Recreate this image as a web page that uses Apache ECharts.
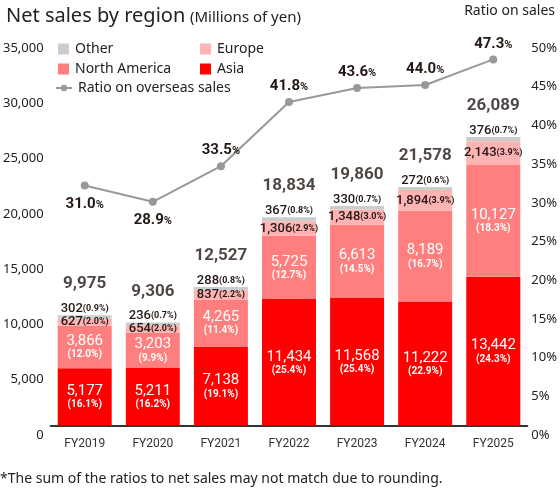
<!DOCTYPE html>
<html>
<head>
<meta charset="utf-8">
<script src="https://cdn.jsdelivr.net/npm/echarts@6/dist/echarts.min.js"></script>
<style>
html,body{margin:0;padding:0;background:#fff;}
#chart{width:560px;height:489px;}
</style>
</head>
<body>
<div id="chart"></div>
<script>
const categories = ['FY2019','FY2020','FY2021','FY2022','FY2023','FY2024','FY2025'];
const asia = [5177, 5211, 7138, 11434, 11568, 11222, 13442];
const asiaPct = ['16.1','16.2','19.1','25.4','25.4','22.9','24.3'];
const northAmerica = [3866, 3203, 4265, 5725, 6613, 8189, 10127];
const northAmericaPct = ['12.0','9.9','11.4','12.7','14.5','16.7','18.3'];
const europe = [627, 654, 837, 1306, 1348, 1894, 2143];
const europePct = ['2.0','2.0','2.2','2.9','3.0','3.9','3.9'];
const other = [302, 236, 288, 367, 330, 272, 376];
const otherPct = ['0.9','0.7','0.8','0.8','0.7','0.6','0.7'];
const totals = [9975, 9306, 12527, 18834, 19860, 21578, 26089];
const ratio = [31.0, 28.9, 33.5, 41.8, 43.6, 44.0, 47.3];
const leftTicks = {min: 0, max: 35000, interval: 5000};
const rightTicks = {min: 0, max: 50, interval: 5};

// label placement for ratio labels (style only)
const ratioLabelPos = ['bottom','bottom','top','top','top','top','top'];

const fmt = v => v.toLocaleString('en-US');
const dark = '#231815';
const numFont = 'Roboto, "Liberation Sans", sans-serif';
const txtFont = '"Noto Sans", "Open Sans", sans-serif';

const chart = echarts.init(document.getElementById('chart'), null, {renderer: 'canvas'});

const option = {
  animation: false,
  backgroundColor: '#fff',
  textStyle: {fontFamily: txtFont},
  title: {
    left: 1, top: 1,
    text: '{a|Net sales by region} {b|(Millions of yen)}',
    textStyle: {
      rich: {
        a: {fontSize: 20, fontFamily: txtFont, color: '#222', fontWeight: 'normal'},
        b: {fontSize: 15, fontFamily: txtFont, color: '#222', fontWeight: 'normal', padding: [3,0,0,0]}
      }
    }
  },
  graphic: [
    {type: 'text', right: 5, top: 4, style: {text: 'Ratio on sales', font: '14px "Noto Sans", sans-serif', fill: '#222'}},
    {type: 'text', left: 0, top: 472, style: {text: '*The sum of the ratios to net sales may not match due to rounding.', font: '14px "Noto Sans", sans-serif', fill: '#222'}}
  ],
  legend: [
    {data: ['Other'], left: 58, top: 42},
    {data: ['Europe'], left: 200, top: 42},
    {data: ['North America'], left: 58, top: 62},
    {data: ['Asia'], left: 200, top: 62},
    {data: ['Ratio on overseas sales'], left: 55, top: 81, itemWidth: 16, itemHeight: 8}
  ].map(l => Object.assign({
    itemWidth: 11, itemHeight: 11, icon: l.data[0] === 'Ratio on overseas sales' ? undefined : 'rect',
    itemGap: 5, padding: 0,
    textStyle: {fontSize: 14, fontFamily: txtFont, color: '#222', padding: [0,0,0,1]},
    selectedMode: false
  }, l)),
  grid: {left: 47, right: 31, top: 38.5, bottom: 63.5},
  xAxis: {
    type: 'category',
    data: categories,
    axisLine: {lineStyle: {color: '#333', width: 2}},
    axisTick: {show: false},
    axisLabel: {color: '#333', fontSize: 12, fontFamily: numFont, margin: 12}
  },
  yAxis: [
    {
      type: 'value', min: leftTicks.min, max: leftTicks.max, interval: leftTicks.interval,
      splitLine: {show: false}, axisLine: {show: false}, axisTick: {show: false},
      axisLabel: {color: '#222', fontSize: 13, fontFamily: txtFont, margin: 7,
        verticalAlign: 'top', lineHeight: 19,
        formatter: v => fmt(v)}
    },
    {
      type: 'value', min: rightTicks.min, max: rightTicks.max, interval: rightTicks.interval,
      splitLine: {show: false}, axisLine: {show: false}, axisTick: {show: false},
      axisLabel: {color: '#222', fontSize: 13, fontFamily: txtFont, margin: 4,
        verticalAlign: 'top', lineHeight: 19,
        formatter: '{value}%'}
    }
  ],
  series: [
    {
      name: 'Asia', type: 'bar', stack: 'sales', barWidth: 54, data: asia,
      itemStyle: {color: '#ff0000'},
      label: {
        show: true, position: 'inside',
        formatter: p => '{v|' + fmt(p.value) + '}\n{p|(' + asiaPct[p.dataIndex] + '%)}',
        rich: {
          v: {fontSize: 15, fontFamily: numFont, color: '#fff', lineHeight: 16, align: 'center'},
          p: {fontSize: 10, fontFamily: numFont, fontWeight: 'bold', color: '#fff', lineHeight: 11, align: 'center'}
        }
      }
    },
    {
      name: 'North America', type: 'bar', stack: 'sales', data: northAmerica,
      itemStyle: {color: '#ff7f7f'},
      label: {
        show: true, position: 'inside',
        formatter: p => '{v|' + fmt(p.value) + '}\n{p|(' + northAmericaPct[p.dataIndex] + '%)}',
        rich: {
          v: {fontSize: 15, fontFamily: numFont, color: '#fff', lineHeight: 16, align: 'center'},
          p: {fontSize: 10, fontFamily: numFont, fontWeight: 'bold', color: '#fff', lineHeight: 11, align: 'center'}
        }
      }
    },
    {
      name: 'Europe', type: 'bar', stack: 'sales', data: europe,
      itemStyle: {color: '#ffb3b3'},
      label: {
        show: true, position: 'inside',
        formatter: p => '{v|' + fmt(p.value) + '}{p|(' + europePct[p.dataIndex] + '%)}',
        rich: {
          v: {fontSize: 13, fontFamily: numFont, fontWeight: 500, color: dark},
          p: {fontSize: 9, fontFamily: numFont, fontWeight: 'bold', color: dark}
        }
      }
    },
    {
      name: 'Other', type: 'bar', stack: 'sales', data: other,
      itemStyle: {color: '#cccccc'},
      label: {
        show: true, position: 'top', distance: 0,
        formatter: p => '{v|' + fmt(p.value) + '}{p|(' + otherPct[p.dataIndex] + '%)}',
        rich: {
          v: {fontSize: 13, fontFamily: numFont, fontWeight: 500, color: dark},
          p: {fontSize: 9, fontFamily: numFont, fontWeight: 'bold', color: dark}
        }
      }
    },
    {
      name: 'Total', type: 'scatter', data: totals, symbolSize: 1,
      itemStyle: {color: 'rgba(0,0,0,0)'},
      label: {
        show: true, position: 'top', distance: 22,
        formatter: p => fmt(p.value),
        fontSize: 17, fontFamily: numFont, fontWeight: 'bold', color: dark
      },
      tooltip: {show: false}
    },
    {
      name: 'Ratio on overseas sales', type: 'line', yAxisIndex: 1,
      data: ratio.map((v, i) => ({value: v, label: {position: ratioLabelPos[i], distance: ratioLabelPos[i] === 'bottom' ? 7 : 4}})),
      symbol: 'circle', symbolSize: 8,
      lineStyle: {color: '#999999', width: 2},
      itemStyle: {color: '#999999'},
      z: 5,
      label: {
        show: true, distance: 4,
        formatter: p => '{v|' + p.value.toFixed(1) + '}{p|%}',
        rich: {
          v: {fontSize: 15, fontFamily: numFont, fontWeight: 'bold', color: dark},
          p: {fontSize: 11, fontFamily: numFont, fontWeight: 'bold', color: dark, padding: [2,0,0,0]}
        }
      }
    }
  ]
};
chart.setOption(option);
</script>
</body>
</html>
